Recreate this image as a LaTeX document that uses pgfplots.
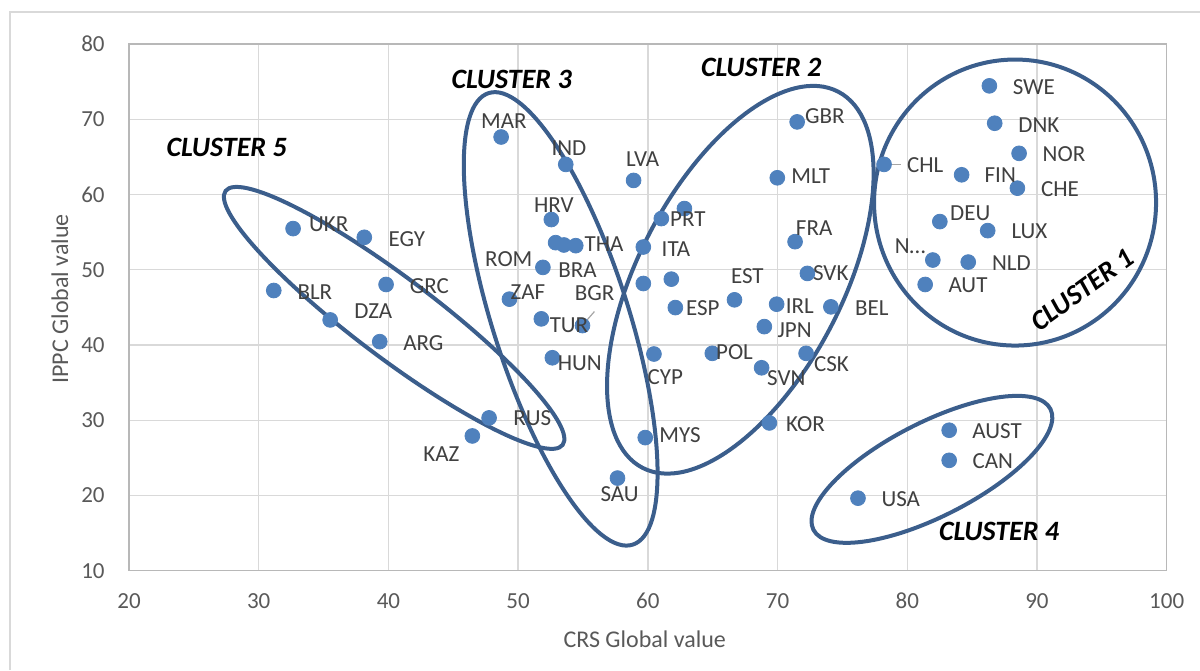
\documentclass[border=0pt]{standalone}
\usepackage{fontspec}
\setmainfont{Carlito}
\usepackage{pgfplots}
\pgfplotsset{compat=1.18}
\usepackage{pgfplotstable}
\usetikzlibrary{shapes.geometric}
\definecolor{dot}{RGB}{79,129,189}
\definecolor{ell}{RGB}{59,94,140}
\definecolor{gridc}{RGB}{217,217,217}
\definecolor{txt}{RGB}{64,64,64}
\definecolor{tickc}{RGB}{89,89,89}
\pgfplotstableread{
x y
32.65 55.47
38.14 54.31
31.16 47.24
39.82 48.04
35.51 43.33
39.33 40.44
48.69 67.64
53.67 64.00
58.90 61.87
52.56 56.67
52.89 53.60
53.53 53.29
54.44 53.20
51.91 50.31
49.33 46.09
51.79 43.47
54.96 42.58
52.64 38.30
61.04 56.80
62.82 58.13
59.65 53.02
59.65 48.17
61.81 48.75
62.12 44.97
66.68 46.00
71.51 69.65
69.98 62.22
71.35 53.73
72.30 49.51
69.93 45.42
74.11 45.07
68.98 42.44
64.97 38.89
72.20 38.89
60.47 38.80
68.77 36.97
47.76 30.31
46.47 27.91
59.80 27.69
57.66 22.31
69.37 29.64
86.33 74.44
86.74 69.47
88.62 65.47
78.21 64.00
84.19 62.62
88.49 60.84
82.51 56.40
86.20 55.20
81.97 51.29
84.70 51.02
81.38 48.04
83.23 28.67
83.23 24.67
76.20 19.64
}\pts
\pgfplotstableread{
lx ly name
35.4 56.0 UKR
41.42 54.13 EGY
34.33 47.0 BLR
43.15 47.87 GRC
38.84 44.44 DZA
42.7 40.31 ARG
48.9 69.78 MAR
49.28 51.47 ROM
50.75 46.97 ZAF
52.76 58.57 HRV
53.92 66.13 IND
59.6 64.67 LVA
56.63 53.42 THA
54.57 49.91 BRA
55.9 46.89 BGR
53.92 42.58 TUR
63.08 56.67 PRT
62.17 52.8 ITA
64.24 44.89 ESP
67.67 49.2 EST
73.64 70.36 GBR
72.56 62.44 MLT
72.82 55.47 FRA
74.1 49.56 SVK
71.71 45.2 IRL
71.32 41.91 JPN
66.68 39.11 POL
54.75 37.64 HUN
61.35 35.78 CYP
70.68 35.56 SVN
74.16 37.42 CSK
51.09 30.22 RUS
44.08 25.56 KAZ
62.48 27.96 MYS
57.82 20.22 SAU
72.15 29.47 KOR
77.26 44.93 BEL
89.76 74.22 SWE
90.15 69.24 DNK
92.08 65.33 NOR
81.38 63.87 CHL
87.17 62.53 FIN
91.77 60.76 CHE
84.86 57.56 DEU
89.42 55.11 LUX
80.22 53.11 N…
88.03 50.89 NLD
84.68 47.91 AUT
86.92 28.58 AUST
86.59 24.58 CAN
79.5 19.47 USA
}\labs
\begin{document}
\begin{tikzpicture}
\path[use as bounding box] (-64.5pt,-49.65pt) rectangle (535.5pt,285.35pt);
\draw[gridc, line width=0.75pt] (-59.5pt,-49.65pt) -- (-59.5pt,279.35pt) -- (535.5pt,279.35pt);
\begin{axis}[
  at={(0,0)}, anchor=south west, scale only axis,
  width=518.85pt, height=263.35pt,
  xmin=20, xmax=100, ymin=10, ymax=80,
  xtick={20,30,...,100}, ytick={10,20,...,80},
  grid=major, grid style={gridc, line width=0.65pt},
  axis line style={draw=gridc!85!black, line width=0.7pt},
  major tick length=0pt,
  /pgf/number format/assume math mode=true,
  tick label style={font=\fontsize{11.5}{13}\selectfont, text=tickc},
  yticklabel style={inner sep=0pt, xshift=-12pt},
  xticklabel style={inner sep=0pt, yshift=-11pt},
  xlabel={CRS Global value}, ylabel={IPPC Global value},
  label style={font=\fontsize{12}{14}\selectfont, text=tickc},
  xlabel style={at={(axis description cs:0.497,-0.131)}, anchor=center},
  ylabel style={at={(axis description cs:-0.0665,0.516)}, anchor=center},
  clip=false,
]
\addplot[only marks, mark=*, mark size=3.7pt, mark options={fill=dot, draw=dot}] table[x=x,y=y] {\pts};
\addplot[draw=none, mark=none, nodes near coords, point meta=explicit symbolic,
  every node near coord/.append style={anchor=center, inner sep=0pt, font=\fontsize{11.5}{13}\selectfont, text=txt}]
  table[x=lx, y=ly, meta=name] {\labs};
\draw[gray!70, line width=0.6pt] (axis cs:54.93,42.57) -- (axis cs:55.88,44.44);
\draw[gray!70, line width=0.6pt] (axis cs:78.5,64) -- (axis cs:79.5,64);
\begin{scope}[every node/.style={draw=ell, line width=2pt, ellipse, inner sep=0pt}]
\node[minimum width=141pt, minimum height=143pt] at (axis cs:88.31,58.93) {};
\node[minimum width=133pt, minimum height=47pt, rotate=27] at (axis cs:81.9,23.47) {};
\node[minimum width=211pt, minimum height=40pt, rotate=-37] at (axis cs:40.44,43.6) {};
\node[minimum width=237pt, minimum height=68pt, rotate=-72.3] at (axis cs:53.28,43.47) {};
\node[minimum width=212pt, minimum height=102pt, rotate=62.5] at (axis cs:67.13,48.67) {};
\end{scope}
\begin{scope}[every node/.style={font=\bfseries\itshape\fontsize{14}{16}\selectfont, text=black}]
\node at (axis cs:27.53,66.27) {CLUSTER 5};
\node at (axis cs:49.5,75.33) {CLUSTER 3};
\node at (axis cs:68.74,76.93) {CLUSTER 2};
\node[rotate=36] at (axis cs:93.5,47.33) {CLUSTER 1};
\node at (axis cs:87.08,15.2) {CLUSTER 4};
\end{scope}
\end{axis}
\end{tikzpicture}
\end{document}
